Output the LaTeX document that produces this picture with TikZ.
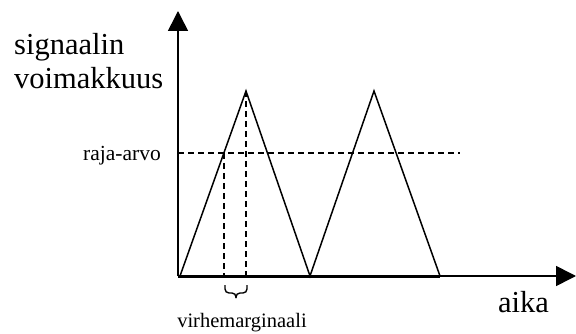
\documentclass[tikz,border=0pt]{standalone}
\usepackage{fontspec}
\setmainfont{Liberation Serif}
\usetikzlibrary{arrows.meta}

\begin{document}
\begin{tikzpicture}[x=1pt,y=-1pt,
      axis/.style={line width=1.6pt, -{Triangle[length=20pt,width=20pt]}},
      signal/.style={line width=1.5pt, line join=miter},
      guide/.style={line width=1.3pt, dash pattern=on 6pt off 4pt},
      bracket/.style={line width=1.4pt, rounded corners=4pt},
      biglabel/.style={font=\fontsize{30.5}{35}\selectfont, inner sep=0pt},
      smalllabel/.style={font=\fontsize{20.5}{24}\selectfont, inner sep=0pt}
    ]
      \useasboundingbox (0,0) rectangle (576,334);

      % axes
      \coordinate (origin) at (178,276);
      \coordinate (ytop) at (178,11);
      \coordinate (xend) at (576,276);
      \draw[axis] (origin) -- (ytop);
      \draw[axis] (origin) -- (xend);
      \draw[line width=3pt] (origin) -- (440,276);

      % two pulses
      \coordinate (peak1) at (246,91);
      \coordinate (peak2) at (374,91);
      \draw[signal] (180,276) -- (peak1) -- (310,276) -- (peak2) -- (440,276);

      % threshold and margin
      \coordinate (cut) at (224,153);
      \coordinate (tip) at (236,298);
      \draw[guide] (178,153) -- (460,153);
      \draw[guide] (cut) -- (224,276);
      \draw[guide] (peak1) -- (246,276);
      \draw[bracket] (225,285) -- (225,293) -- (236,293) -- (tip);
      \draw[bracket] (247,285) -- (247,293) -- (236,293) -- (tip);

      % labels
      \node[biglabel, anchor=base west] (ylabel1) at (14,55) {signaalin};
      \node[biglabel, anchor=base west] (ylabel2) at (14,89) {voimakkuus};
      \node[biglabel, anchor=base west] (xlabel) at (498,312) {aika};
      \node[smalllabel, font=\fontsize{21.5}{24}\selectfont, anchor=base east]
        (limit) at (161,161) {raja-arvo};
      \node[smalllabel, anchor=base] (margin) at (242,327) {virhemarginaali};
    \end{tikzpicture}
\end{document}
